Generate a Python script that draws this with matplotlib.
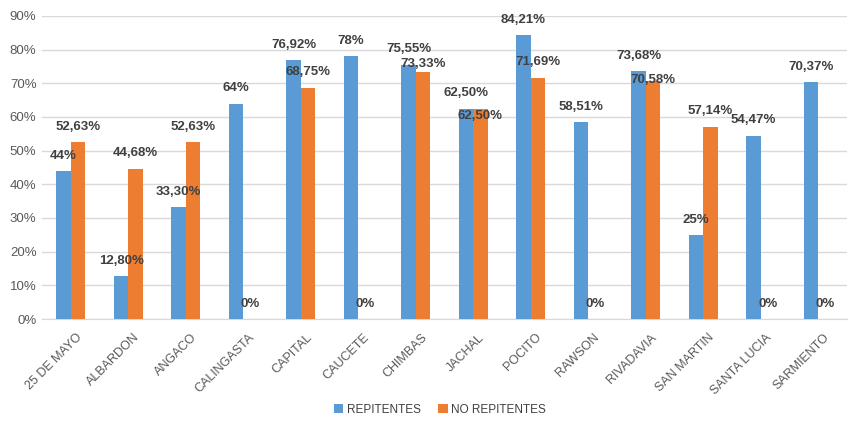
import matplotlib
matplotlib.use("Agg")
import matplotlib.pyplot as plt
import matplotlib.transforms as mtransforms
import numpy as np

categories = ["25 DE MAYO", "ALBARDON", "ANGACO", "CALINGASTA", "CAPITAL", "CAUCETE",
              "CHIMBAS", "JACHAL", "POCITO", "RAWSON", "RIVADAVIA", "SAN MARTIN",
              "SANTA LUCIA", "SARMIENTO"]
repitentes = [44, 12.80, 33.30, 64, 76.92, 78, 75.55, 62.50, 84.21, 58.51, 73.68, 25, 54.47, 70.37]
no_repitentes = [52.63, 44.68, 52.63, 0, 68.75, 0, 73.33, 62.50, 71.69, 0, 70.58, 57.14, 0, 0]
rep_labels = ["44%", "12,80%", "33,30%", "64%", "76,92%", "78%", "75,55%", "62,50%",
              "84,21%", "58,51%", "73,68%", "25%", "54,47%", "70,37%"]
norep_labels = ["52,63%", "44,68%", "52,63%", "0%", "68,75%", "0%", "73,33%", "62,50%",
                "71,69%", "0%", "70,58%", "57,14%", "0%", "0%"]
series_names = ["REPITENTES", "NO REPITENTES"]

plt.rcParams['font.family'] = ['Liberation Sans', 'DejaVu Sans']

fig = plt.figure(figsize=(8.49, 4.21), dpi=100)
ax = fig.add_axes([42/849, 1-319/421, 805/849, 303/421])

blue = "#5B9BD5"
orange = "#ED7D31"
x = np.arange(len(categories))
w = 0.25
b1 = ax.bar(x - w/2, [v/100 for v in repitentes], w, color=blue, label=series_names[0], zorder=3)
b2 = ax.bar(x + w/2, [v/100 for v in no_repitentes], w, color=orange, label=series_names[1], zorder=3)

ax.set_ylim(0, 0.9)
ax.set_xlim(-0.5, len(categories) - 0.5)
yt = np.arange(0, 0.91, 0.1)
ax.set_yticks(yt)
ax.set_yticklabels([f"{int(round(t*100))}%" for t in yt])
ax.yaxis.grid(True, color="#D9D9D9", linewidth=1, zorder=0)
for s in ["top", "right", "left"]:
    ax.spines[s].set_visible(False)
ax.spines["bottom"].set_color("#D9D9D9")
ax.tick_params(axis="both", length=0, colors="#595959", labelsize=9.5)
ax.tick_params(axis="y", pad=4)
ax.tick_params(axis="x", pad=6)
ax.set_xticks(x)
ax.set_xticklabels(categories, rotation=45, ha="right", rotation_mode="anchor", fontsize=9)
offset = mtransforms.ScaledTranslation(5/100, -4/100, fig.dpi_scale_trans)
for lbl in ax.get_xticklabels():
    lbl.set_transform(lbl.get_transform() + offset)

rep_off = {}
norep_off = {"CHIMBAS": 6, "JACHAL": -5, "RIVADAVIA": 1, "POCITO": 11}
for i, c in enumerate(categories):
    ax.annotate(rep_labels[i], (x[i] - w/2, repitentes[i]/100), xytext=(0, rep_off.get(c, 11)),
                textcoords="offset points", ha="center", va="center", fontsize=9.5,
                color="#404040", fontweight="bold", zorder=5)
    ax.annotate(norep_labels[i], (x[i] + w/2, no_repitentes[i]/100), xytext=(0, norep_off.get(c, 11)),
                textcoords="offset points", ha="center", va="center", fontsize=9.5,
                color="#404040", fontweight="bold", zorder=5)

leg = fig.legend(handles=[b1, b2], loc="center", bbox_to_anchor=(440/849, 1-410/421), ncol=2,
                 frameon=False, fontsize=8.5, handlelength=0.8, handleheight=0.8,
                 handletextpad=0.3, columnspacing=1.5)
for t in leg.get_texts():
    t.set_color("#404040")

fig.savefig("out.png", dpi=100)
